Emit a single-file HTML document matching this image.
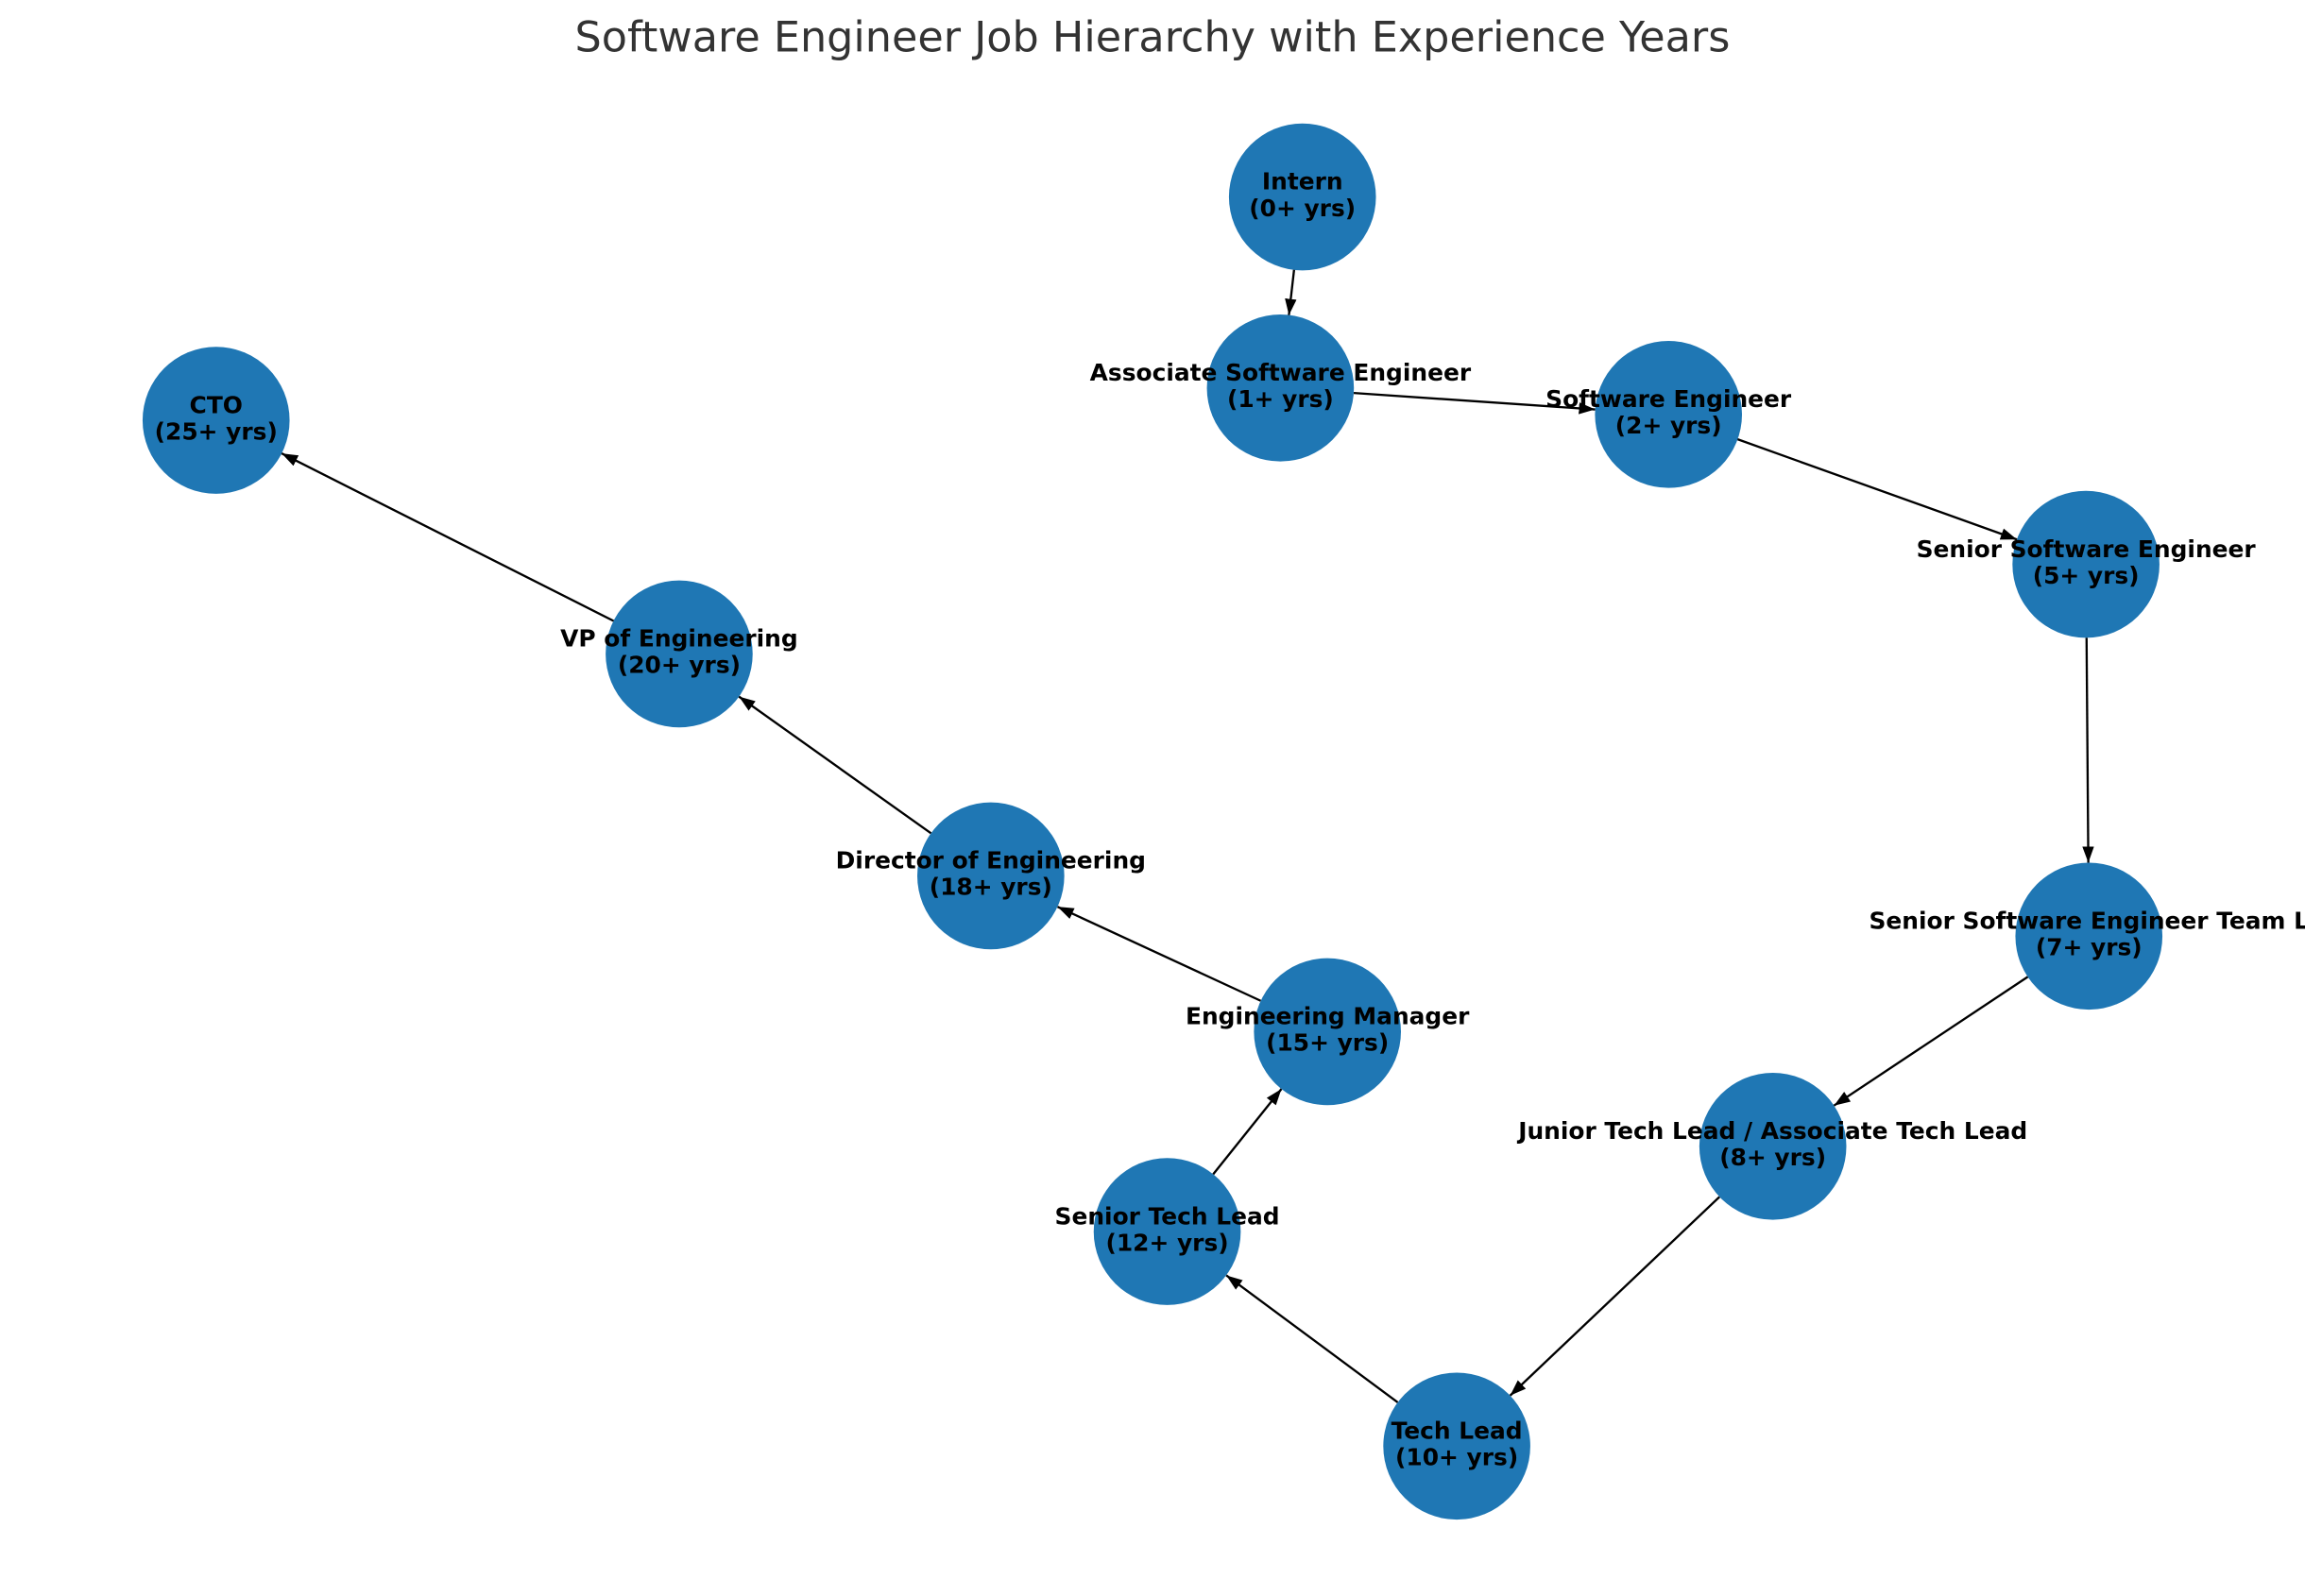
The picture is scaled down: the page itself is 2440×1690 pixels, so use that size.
<!DOCTYPE html>
<html><head><meta charset="utf-8"><style>
html,body{margin:0;padding:0;background:#fff;}
svg{display:block;}
</style></head><body>
<svg width="2440" height="1690" viewBox="0 0 1568 1086" preserveAspectRatio="none" xmlns="http://www.w3.org/2000/svg">
<defs>
<marker id="a" markerUnits="userSpaceOnUse" markerWidth="12" markerHeight="10" refX="11" refY="4" orient="auto">
<path d="M0,0 L11,4 L0,8 z" fill="#000"/>
</marker>
</defs>
<rect width="1568" height="1086" fill="#fff"/>
<text x="784" y="35" text-anchor="middle" font-family="'DejaVu Sans','Liberation Sans',sans-serif" font-size="28.6" fill="#333">Software Engineer Job Hierarchy with Experience Years</text>
<g fill="#1f77b4">
<circle cx="886" cy="134" r="50"/>
<circle cx="871" cy="264" r="50"/>
<circle cx="1135" cy="282" r="50"/>
<circle cx="1419" cy="384" r="50"/>
<circle cx="1421" cy="637" r="50"/>
<circle cx="1206" cy="780" r="50"/>
<circle cx="991" cy="984" r="50"/>
<circle cx="794" cy="838" r="50"/>
<circle cx="903" cy="702" r="50"/>
<circle cx="674" cy="596" r="50"/>
<circle cx="462" cy="445" r="50"/>
<circle cx="147" cy="286" r="50"/>
</g>
<g stroke="#000" stroke-width="1.5" marker-end="url(#a)">
<line x1="880.3" y1="183.6" x2="876.8" y2="214.4"/>
<line x1="920.9" y1="267.4" x2="1085.1" y2="278.6"/>
<line x1="1182" y1="298.9" x2="1372" y2="367.1"/>
<line x1="1419.4" y1="434" x2="1420.6" y2="587"/>
<line x1="1379.4" y1="664.7" x2="1247.6" y2="752.3"/>
<line x1="1169.7" y1="814.4" x2="1027.3" y2="949.6"/>
<line x1="950.8" y1="954.2" x2="834.2" y2="867.8"/>
<line x1="825.3" y1="799" x2="871.7" y2="741"/>
<line x1="857.6" y1="681" x2="719.4" y2="617"/>
<line x1="633.3" y1="567" x2="502.7" y2="474"/>
<line x1="417.4" y1="422.5" x2="191.6" y2="308.5"/>
</g>
<g font-family="'DejaVu Sans','Liberation Sans',sans-serif" font-size="16" font-weight="bold" text-anchor="middle" fill="#000">
<text x="886" y="129">Intern</text><text x="886" y="147">(0+ yrs)</text>
<text x="871" y="259">Associate Software Engineer</text><text x="871" y="277">(1+ yrs)</text>
<text x="1135" y="277">Software Engineer</text><text x="1135" y="295">(2+ yrs)</text>
<text x="1419" y="379">Senior Software Engineer</text><text x="1419" y="397">(5+ yrs)</text>
<text x="1421" y="632">Senior Software Engineer Team L</text><text x="1421" y="650">(7+ yrs)</text>
<text x="1206" y="775">Junior Tech Lead / Associate Tech Lead</text><text x="1206" y="793">(8+ yrs)</text>
<text x="991" y="979">Tech Lead</text><text x="991" y="997">(10+ yrs)</text>
<text x="794" y="833">Senior Tech Lead</text><text x="794" y="851">(12+ yrs)</text>
<text x="903" y="697">Engineering Manager</text><text x="903" y="715">(15+ yrs)</text>
<text x="674" y="591">Director of Engineering</text><text x="674" y="609">(18+ yrs)</text>
<text x="462" y="440">VP of Engineering</text><text x="462" y="458">(20+ yrs)</text>
<text x="147" y="281">CTO</text><text x="147" y="299">(25+ yrs)</text>
</g>
</svg>
</body></html>
